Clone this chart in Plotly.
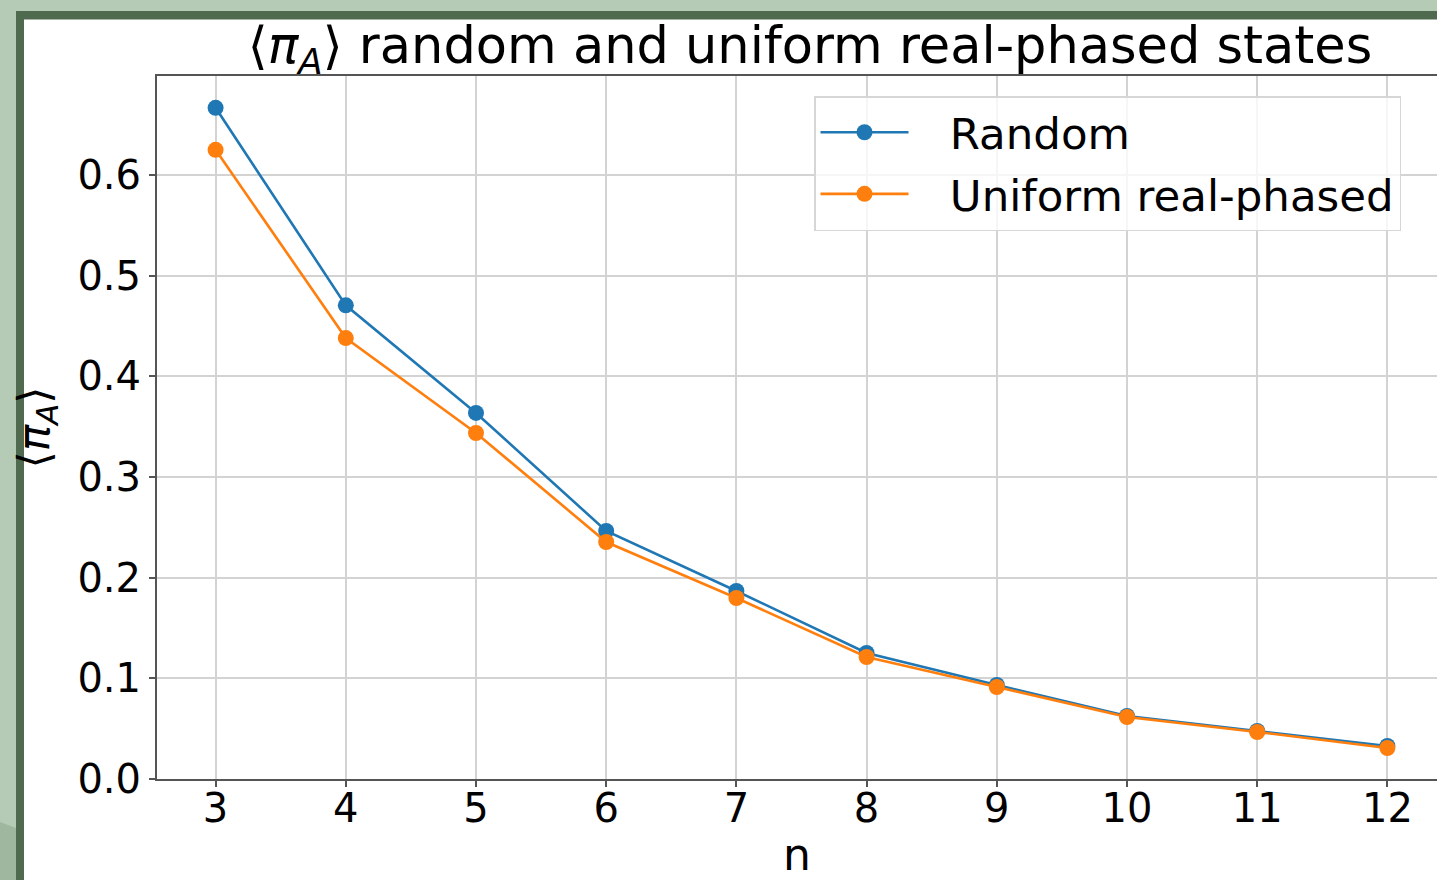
import plotly.graph_objects as go

n_values = [3, 4, 5, 6, 7, 8, 9, 10, 11, 12]
random_pi = [0.6667, 0.4705, 0.3636, 0.2464, 0.1868, 0.1252, 0.0934, 0.0626, 0.0477, 0.0328]
uniform_pi = [0.6250, 0.4380, 0.3437, 0.2354, 0.1798, 0.1212, 0.0914, 0.0616, 0.0467, 0.0308]
y_ticks = [0.0, 0.1, 0.2, 0.3, 0.4, 0.5, 0.6]
y_tick_text = ["0.0", "0.1", "0.2", "0.3", "0.4", "0.5", "0.6"]

W, H = 1437, 880
L, R, T, B = 157, 0, 76, 101
pw, ph = W - L - R, H - T - B

def px(x):
    return (x - L) / pw

def py(y):
    return (H - B - y) / ph

FONT = "DejaVu Sans"
NB = "\u00a0\u00a0\u2009"

fig = go.Figure()
fig.add_trace(go.Scatter(x=n_values, y=random_pi, mode="lines+markers", name=NB + "Random",
                         legendgroup="g1",
                         line=dict(color="#1f77b4", width=2.6),
                         marker=dict(color="#1f77b4", size=16)))
fig.add_trace(go.Scatter(x=n_values, y=uniform_pi, mode="lines+markers", name=NB + "Uniform real-phased",
                         legendgroup="g2",
                         line=dict(color="#ff7f0e", width=2.6),
                         marker=dict(color="#ff7f0e", size=16)))

# frame decoration (screenshot border)
light = "#b6cbb5"
dark = "#4f6a4f"
shapes = [
    dict(type="rect", xref="paper", yref="paper", x0=px(0), x1=px(W), y0=py(0), y1=py(11),
         fillcolor=light, line=dict(width=0), layer="above"),
    dict(type="rect", xref="paper", yref="paper", x0=px(0), x1=px(16), y0=py(0), y1=py(H),
         fillcolor=light, line=dict(width=0), layer="above"),
    dict(type="path", xref="paper", yref="paper",
         path=f"M {px(0)},{py(822)} L {px(16)},{py(828)} L {px(16)},{py(H)} L {px(0)},{py(H)} Z",
         fillcolor="#9fb79e", line=dict(width=0), layer="above"),
    dict(type="rect", xref="paper", yref="paper", x0=px(16), x1=px(W), y0=py(11), y1=py(19.5),
         fillcolor=dark, line=dict(width=0), layer="above"),
    dict(type="rect", xref="paper", yref="paper", x0=px(16), x1=px(24), y0=py(11), y1=py(H),
         fillcolor=dark, line=dict(width=0), layer="above"),
]

x_lo = 2.55
x_hi = 2.55 + pw / 130.2

fig.update_layout(
    width=W, height=H,
    margin=dict(l=L, r=R, t=T, b=B, pad=0),
    paper_bgcolor="white", plot_bgcolor="white",
    font=dict(family=FONT, color="black"),
    title=dict(text="⟨<i>π</i><sub><i>A</i></sub>⟩ random and uniform real-phased states",
               font=dict(size=51, family=FONT, color="black"),
               x=px(810), xanchor="center", xref="paper",
               y=1 - 45 / H, yanchor="middle", yref="container"),
    showlegend=True,
    legend=dict(x=px(814), y=py(96), xanchor="left", yanchor="top",
                bgcolor="rgba(255,255,255,0.8)", bordercolor="#d6d6d6", borderwidth=1.5,
                font=dict(size=43.5, family=FONT, color="black"),
                itemwidth=88, tracegroupgap=2),
    shapes=shapes,
    xaxis=dict(range=[x_lo, x_hi], tickmode="array", tickvals=n_values,
               ticktext=[str(v) for v in n_values],
               showgrid=True, gridcolor="#d3d3d3", gridwidth=1.5,
               showline=True, linecolor="#555555", linewidth=2, mirror=True,
               ticks="outside", ticklen=6, tickwidth=1.5, tickcolor="#555555",
               ticklabelstandoff=-13,
               tickfont=dict(size=40, family=FONT, color="black"),
               title=dict(text="n", font=dict(size=44, family=FONT, color="black"), standoff=10),
               zeroline=False, fixedrange=True),
    yaxis=dict(range=[0, ph / 1006.7], tickmode="array", tickvals=y_ticks, ticktext=y_tick_text,
               showgrid=True, gridcolor="#d3d3d3", gridwidth=1.5,
               showline=True, linecolor="#555555", linewidth=2, mirror=False,
               ticks="outside", ticklen=6, tickwidth=1.5, tickcolor="#555555",
               tickfont=dict(size=40, family=FONT, color="black"),
               title=dict(text="⟨<i>π</i><sub><i>A</i></sub>⟩", font=dict(size=44, family=FONT, color="black"), standoff=14),
               zeroline=False, fixedrange=True),
)

fig.write_html("out.html")
